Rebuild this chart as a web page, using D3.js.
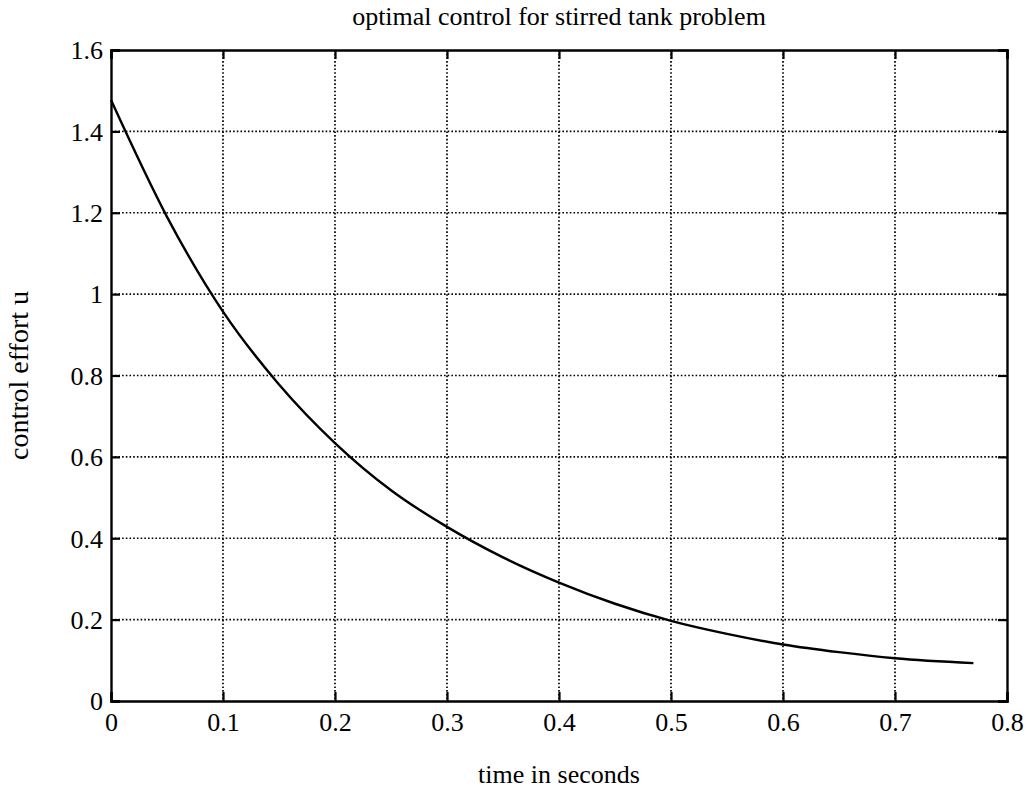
<!DOCTYPE html>
<html>
<head>
<meta charset="utf-8">
<script src="https://cdn.jsdelivr.net/npm/d3@7"></script>
<style>
  html, body { margin: 0; padding: 0; background: #fff; }
  svg { display: block; }
  text { font-family: "Liberation Serif", "Times New Roman", serif; fill: #000; }
</style>
</head>
<body>
<svg id="chart" width="1031" height="793"></svg>
<script>
// Optimal control trajectory u(t) for the stirred tank problem
const timeSeconds = [0, 0.05, 0.1, 0.15, 0.2, 0.25, 0.3, 0.35, 0.4, 0.45, 0.5, 0.55, 0.6, 0.65, 0.7, 0.77];
const controlEffort = [1.477, 1.19, 0.957, 0.778, 0.634, 0.518, 0.428, 0.353, 0.291, 0.239, 0.197, 0.165, 0.139, 0.12, 0.105, 0.093];

const xTicks = [0, 0.1, 0.2, 0.3, 0.4, 0.5, 0.6, 0.7, 0.8];
const yTicks = [0, 0.2, 0.4, 0.6, 0.8, 1, 1.2, 1.4, 1.6];

const titleText = "optimal control for stirred tank problem";
const xLabelText = "time in seconds";
const yLabelText = "control effort u";

const svg = d3.select("#chart");
const margin = { left: 111, top: 50, right: 24, bottom: 92 };
const W = 1031, H = 793;
const innerW = W - margin.left - margin.right;
const innerH = H - margin.top - margin.bottom;

const x = d3.scaleLinear().domain([0, 0.8]).range([0, innerW]);
const y = d3.scaleLinear().domain([0, 1.6]).range([innerH, 0]);

const g = svg.append("g").attr("transform", `translate(${margin.left},${margin.top})`);

// dotted grid
const grid = g.append("g").attr("fill", "none").attr("stroke", "#000")
  .attr("stroke-width", 1.7).attr("stroke-dasharray", "1.6 2.1");
grid.selectAll("line.gx").data(xTicks.slice(1, -1)).join("line")
  .attr("class", "gx")
  .attr("x1", d => x(d)).attr("x2", d => x(d))
  .attr("y1", 0).attr("y2", innerH);
grid.selectAll("line.gy").data(yTicks.slice(1, -1)).join("line")
  .attr("class", "gy")
  .attr("x1", 0).attr("x2", innerW)
  .attr("y1", d => y(d)).attr("y2", d => y(d));

// axes with inward ticks on all four sides
const tickLen = 9;
const fmt = d => d3.format("")(+d.toFixed(1));

const axB = g.append("g").attr("transform", `translate(0,${innerH})`)
  .call(d3.axisBottom(x).tickValues(xTicks).tickSize(-tickLen).tickPadding(12).tickFormat(fmt));
const axL = g.append("g")
  .call(d3.axisLeft(y).tickValues(yTicks).tickSize(-tickLen).tickPadding(8).tickFormat(fmt));
const axT = g.append("g")
  .call(d3.axisTop(x).tickValues(xTicks).tickSize(-tickLen).tickFormat(""));
const axR = g.append("g").attr("transform", `translate(${innerW},0)`)
  .call(d3.axisRight(y).tickValues(yTicks).tickSize(-tickLen).tickFormat(""));

[axB, axL, axT, axR].forEach(a => {
  a.select(".domain").attr("stroke", "#000").attr("stroke-width", 2.4);
  a.selectAll(".tick line").attr("stroke", "#000").attr("stroke-width", 2.2);
  a.selectAll(".tick text").attr("font-family", "Liberation Serif, serif")
    .attr("font-size", 26).attr("fill", "#000");
});
axB.selectAll(".tick text").attr("dy", "0.71em");
axL.selectAll(".tick text").attr("dy", "0.34em");

// control curve
const line = d3.line()
  .x((d, i) => x(timeSeconds[i]))
  .y(d => y(d))
  .curve(d3.curveMonotoneX);
g.append("path")
  .datum(controlEffort)
  .attr("fill", "none")
  .attr("stroke", "#000")
  .attr("stroke-width", 2.4)
  .attr("d", line);

// labels
svg.append("text")
  .attr("x", margin.left + innerW / 2).attr("y", 25)
  .attr("text-anchor", "middle").attr("font-size", 26)
  .text(titleText);

svg.append("text")
  .attr("x", margin.left + innerW / 2).attr("y", 783)
  .attr("text-anchor", "middle").attr("font-size", 26)
  .text(xLabelText);

svg.append("text")
  .attr("transform", `translate(28,${margin.top + innerH / 2}) rotate(-90)`)
  .attr("text-anchor", "middle").attr("font-size", 28)
  .text(yLabelText);
</script>
</body>
</html>
